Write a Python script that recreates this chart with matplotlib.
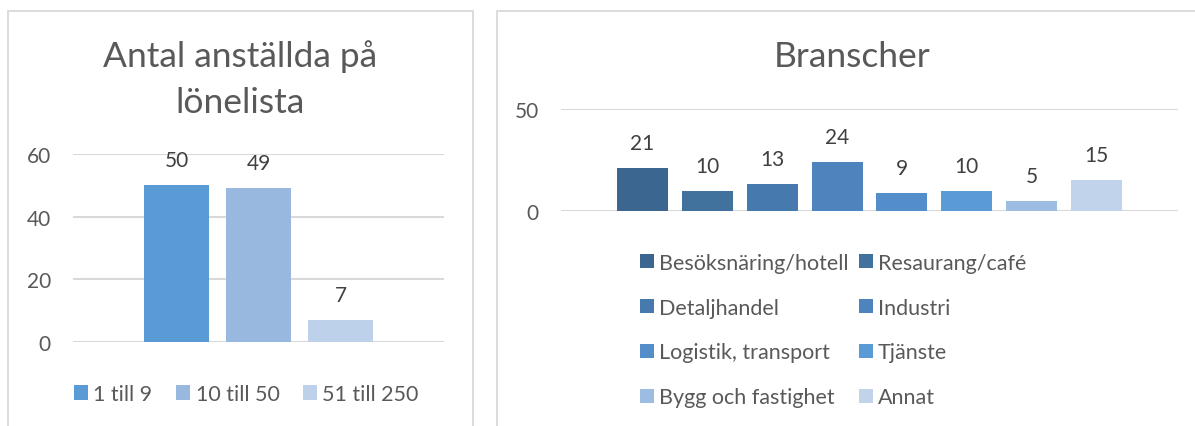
import matplotlib
matplotlib.use("Agg")
import matplotlib.pyplot as plt
from matplotlib.patches import Rectangle, Patch

# ---- data ----
size_labels = ["1 till 9", "10 till 50", "51 till 250"]
size_values = [50, 49, 7]
size_colors = ["#5B9BD5", "#99B8DF", "#BED1EA"]

branch_labels = ["Besöksnäring/hotell", "Resaurang/café", "Detaljhandel", "Industri",
                 "Logistik, transport", "Tjänste", "Bygg och fastighet", "Annat"]
branch_values = [21, 10, 13, 24, 9, 10, 5, 15]
branch_colors = ["#3A6690", "#41719D", "#4679AD", "#4E84BE",
                 "#538DCA", "#5B9BD5", "#9DBCE2", "#C0D3EB"]

left_ticks = [0, 20, 40, 60]
right_ticks = [0, 50]

W, H = 1195, 427
FONT = "Lato"
TXT = "#595959"
GRID = "#D9D9D9"
NUM = 15

fig = plt.figure(figsize=(W / 100, H / 100), dpi=100)

def fx(px):
    return px / W

def fy(py):
    return 1 - py / H

# panel borders
for (x0, x1) in [(8, 472.5), (496.7, 1230)]:
    fig.patches.append(Rectangle((fx(x0), fy(440)), fx(x1 - x0), (440 - 11.5) / H,
                                 transform=fig.transFigure, fill=False,
                                 edgecolor=GRID, linewidth=1.3))

def style_axes(ax, ticks, ymax):
    ax.set_ylim(0, ymax)
    ax.set_yticks(ticks)
    ax.tick_params(axis="y", length=0, pad=16, labelsize=NUM, labelcolor=TXT)
    for lab in ax.get_yticklabels():
        lab.set_fontfamily(FONT)
    ax.set_xticks([])
    for s in ax.spines.values():
        s.set_visible(False)
    ax.grid(axis="y", color=GRID, linewidth=1.5)
    ax.set_axisbelow(True)
    ax.patch.set_alpha(0)

# ---- left chart ----
axl = fig.add_axes([fx(73), fy(343), fx(444 - 73), (343 - 155) / H])
n = len(size_values)
pos_l = [i - (n - 1) / 2 for i in range(n)]
axl.bar(pos_l, size_values, width=65 / 82, color=size_colors)
axl.set_xlim(-2.262, 2.262)
style_axes(axl, left_ticks, 60)
for p, v in zip(pos_l, size_values):
    axl.annotate(str(v), (p, v), xytext=(0, 18), textcoords="offset points",
                 ha="center", va="center", fontsize=NUM, color="#404040", family=FONT)

fig.text(fx(240.5), fy(57), "Antal anställda på", ha="center", va="center",
         fontsize=25.5, color=TXT, family=FONT)
fig.text(fx(240.5), fy(103), "lönelista", ha="center", va="center",
         fontsize=25.5, color=TXT, family=FONT)

LEG = 15.5
handles_l = [Patch(facecolor=c, edgecolor="none") for c in size_colors]
fig.legend(handles_l, size_labels, loc="center left", bbox_to_anchor=(fx(74), fy(395)),
           ncol=3, frameon=False, prop={"family": FONT, "size": LEG},
           labelcolor=TXT, handlelength=0.65, handleheight=0.65,
           handletextpad=0.25, columnspacing=1.1, borderpad=0, borderaxespad=0)

# ---- right chart ----
axr = fig.add_axes([fx(561), fy(212), fx(1178 - 561), (212 - 110) / H])
m = len(branch_values)
pos_r = [i - (m - 1) / 2 for i in range(m)]
axr.bar(pos_r, branch_values, width=51 / 64.9, color=branch_colors)
axr.set_xlim(-4.753, 4.753)
style_axes(axr, right_ticks, 50)
for p, v in zip(pos_r, branch_values):
    axr.annotate(str(v), (p, v), xytext=(0, 18), textcoords="offset points",
                 ha="center", va="center", fontsize=NUM, color="#404040", family=FONT)

fig.text(fx(852), fy(57), "Branscher", ha="center", va="center",
         fontsize=25.5, color=TXT, family=FONT)

handles_r = [Patch(facecolor=c, edgecolor="none") for c in branch_colors]
order = [0, 2, 4, 6, 1, 3, 5, 7]
fig.legend([handles_r[i] for i in order], [branch_labels[i] for i in order],
           loc="center left", bbox_to_anchor=(fx(640), fy(331)),
           ncol=2, frameon=False, prop={"family": FONT, "size": LEG},
           labelcolor=TXT, handlelength=0.65, handleheight=0.65,
           handletextpad=0.25, columnspacing=0.45, labelspacing=1.16,
           borderpad=0, borderaxespad=0)

fig.savefig("out.png", dpi=100)
